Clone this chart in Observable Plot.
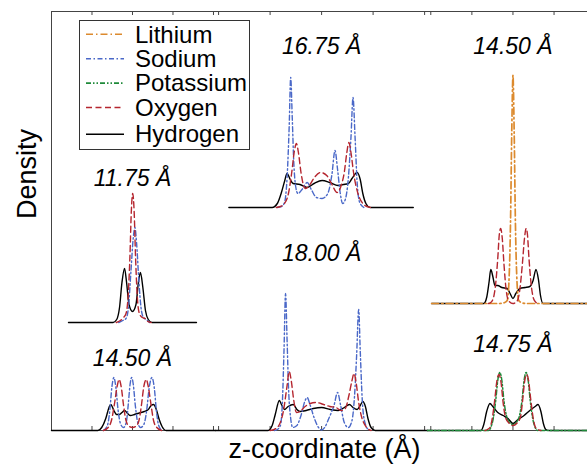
<!DOCTYPE html>
<html><head><meta charset="utf-8">
<script src="https://cdn.jsdelivr.net/npm/d3@7"></script>
<script src="https://cdn.jsdelivr.net/npm/@observablehq/plot@0.6"></script>
<style>
html,body{margin:0;padding:0;background:#fff;}
#chart{position:relative;width:587px;height:464px;overflow:hidden;font-family:"Liberation Sans",Arial,Helvetica,sans-serif;}
#chart svg.panel{position:absolute;top:0;}
#legend{position:absolute;left:79px;top:20px;width:171px;height:130px;border:1px solid #333;background:#fff;box-sizing:border-box;}
#legend .lab{position:absolute;left:55px;font-size:24px;line-height:20px;height:20px;color:#000;white-space:nowrap;}
</style></head>
<body><div id="chart"></div>
<script>
// ---- species and styles ----
const species = ["Lithium", "Sodium", "Potassium", "Oxygen", "Hydrogen"];
const colors = ["#dc8a2e", "#4a68c8", "#1f8a3a", "#b5262f", "#000000"];
const dashes = ["7,3,1.5,3", "5,2.5,1.5,2.5", "5,2,1.5,2,1.5,2", "6,3.5", null];
const widths = [1.7, 1.4, 1.5, 1.4, 1.4];

// ---- density profiles: [z (Å), density] ----
// 11.75 Å (Na)
const H_1175 = [[-7.9,0],[-2.4,0],[-1.95,0.3],[-1.6,1.5],[-1.3,4.0],[-0.98,5.4],[-0.73,4.0],[-0.43,1.8],[0,1.1],[0.43,1.8],[0.73,4.0],[0.98,5.0],[1.28,3.5],[1.6,1.2],[1.95,0.3],[2.4,0],[7.9,0]];
const O_1175 = [[-2.0,0],[-1.5,0.2],[-1.1,0.5],[-0.8,0.9],[-0.55,2.5],[-0.32,6.5],[-0.14,11.2],[0.03,12.9],[0.2,11.2],[0.38,6.5],[0.6,2.5],[0.85,0.9],[1.2,0.5],[1.55,0.4],[1.9,0.1],[2.3,0]];
const Na_1175 = [[-1.7,0],[-1.2,0.2],[-0.8,0.4],[-0.5,1.5],[-0.2,5],[0.1,8.5],[0.3,9.5],[0.5,8],[0.8,4],[1.05,1.5],[1.35,0.5],[1.7,0.3],[2.1,0]];
// 14.50 Å (Na)
const H_1450a = [[-10,0],[-4.27,0],[-3.8,0.3],[-3.3,1.2],[-2.9,2.3],[-2.68,2.6],[-2.3,2.0],[-1.95,1.6],[-1.6,1.6],[-1.3,1.8],[-0.98,2.0],[-0.6,1.7],[-0.24,1.5],[0.24,1.6],[0.85,1.75],[1.46,1.9],[1.95,2.1],[2.3,2.5],[2.6,2.6],[2.9,2.2],[3.3,1.1],[3.65,0.4],[4.15,0],[10.25,0]];
const O_1450a = [[-3.6,0],[-3.0,0.3],[-2.6,1.0],[-2.2,2.8],[-1.9,4.4],[-1.65,5.1],[-1.4,4.4],[-1.1,2.5],[-0.8,1.0],[-0.4,0.4],[0,0.3],[0.4,0.4],[0.8,1.0],[1.1,2.5],[1.4,4.4],[1.7,5.1],[1.95,4.4],[2.25,2.8],[2.6,1.0],[3.0,0.3],[3.6,0]];
const Na_1450a = [[-3.6,0],[-3.1,0.5],[-2.8,2],[-2.55,4.3],[-2.3,5.3],[-2.05,4.3],[-1.8,2.2],[-1.45,0.6],[-1.1,0.3],[-0.75,0.9],[-0.5,2.8],[-0.3,4.6],[-0.1,5.3],[0.1,4.6],[0.35,2.5],[0.65,0.8],[1.0,0.3],[1.4,0.6],[1.75,2.0],[2.05,4.2],[2.4,5.3],[2.7,4.2],[2.95,2],[3.2,0.6],[3.6,0]];
// 16.75 Å (Na)
const H_1675 = [[-9,0],[-4.8,0],[-4.3,0.4],[-3.9,1.5],[-3.6,2.6],[-3.35,3.4],[-3.05,2.8],[-2.77,2.4],[-2.1,2.3],[-1.4,2.0],[-0.73,2.4],[0.05,2.7],[0.8,2.5],[1.6,2.2],[2.1,2.3],[2.6,2.4],[2.95,2.9],[3.45,3.5],[3.75,2.8],[4.0,1.4],[4.3,0.4],[4.7,0],[8.9,0]];
const Na_1675 = [[-4.3,0],[-3.9,0.1],[-3.6,0.5],[-3.35,3],[-3.15,8],[-3.0,13],[-2.85,9],[-2.7,4.5],[-2.5,2],[-2.3,1.4],[-1.9,1.8],[-1.4,2.5],[-1.0,1.8],[-0.5,1.0],[0.05,0.9],[0.6,1.4],[1.0,3.3],[1.3,5.7],[1.55,3.8],[1.8,1.5],[2.05,0.4],[2.3,0.8],[2.6,3],[2.85,7],[3.05,11],[3.25,7],[3.45,2.5],[3.7,0.5],[4.1,0]];
const O_1675 = [[-4.4,0],[-4.0,0.1],[-3.6,0.4],[-3.2,1.5],[-2.9,3.5],[-2.65,5.6],[-2.45,6.4],[-2.25,5.5],[-2.0,3.5],[-1.6,1.9],[-1.2,2.2],[-0.7,3.0],[-0.1,3.5],[0.5,3.2],[1.0,2.3],[1.5,1.5],[1.9,2.2],[2.2,3.5],[2.45,5.5],[2.65,6.5],[2.85,5.5],[3.1,3.5],[3.5,1.5],[4.0,0.4],[4.4,0.1],[4.8,0]];
// 18.00 Å (Na)
const H_1800 = [[-10.3,0],[-5.2,0],[-4.8,0.5],[-4.5,1.6],[-4.1,3.0],[-3.9,2.6],[-3.6,2.1],[-3.25,2.4],[-2.75,2.6],[-2.4,2.1],[-2.1,1.9],[-1.5,2.0],[-0.8,2.2],[0,2.3],[0.85,2.1],[1.6,2.0],[2.2,2.3],[2.7,2.6],[3.05,2.3],[3.45,2.1],[3.75,2.5],[4.0,2.9],[4.25,2.4],[4.5,1.2],[4.8,0.3],[5.2,0],[10.28,0]];
const Na_1800 = [[-4.6,0],[-4.3,0.1],[-4.0,0.5],[-3.8,3],[-3.65,8],[-3.5,13.7],[-3.35,9],[-3.2,4],[-3.0,1.2],[-2.8,0.3],[-2.4,0.5],[-2.0,1.5],[-1.6,3.0],[-1.4,3.3],[-1.1,2.5],[-0.7,1.2],[-0.3,0.3],[0,0.05],[0.3,0.3],[0.7,1.2],[1.2,2.5],[1.55,3.8],[1.85,2.5],[2.2,0.8],[2.6,0.3],[2.95,1.0],[3.2,3.5],[3.4,7.5],[3.6,12.1],[3.75,8],[3.95,3],[4.2,0.8],[4.6,0]];
const O_1800 = [[-5.0,0],[-4.6,0.1],[-4.1,0.6],[-3.7,2],[-3.35,4.5],[-3.15,5.9],[-2.95,5.0],[-2.7,3],[-2.45,1.8],[-2.1,1.9],[-1.6,2.4],[-1.1,2.7],[-0.5,2.8],[0.2,2.6],[0.8,2.4],[1.4,2.3],[1.9,2.0],[2.3,2.2],[2.65,3.5],[2.95,5.0],[3.15,5.7],[3.35,4.8],[3.6,2.8],[3.9,1.3],[4.3,0.4],[4.8,0]];
// 14.50 Å (Li)
const H_1450b = [[-9.9,0],[-3.55,0],[-3.2,0.6],[-2.9,2.2],[-2.7,3.4],[-2.45,2.7],[-2.2,1.8],[-1.85,1.8],[-1.35,1.6],[-0.7,1.5],[-0.35,1.0],[0,0.5],[0.35,1.0],[0.85,1.5],[1.45,1.6],[2.05,1.7],[2.45,2.3],[2.8,3.4],[3.1,2.4],[3.35,0.8],[3.65,0],[9.8,0]];
const Li_1450 = [[-9.9,0],[-1.6,0],[-1.0,0.1],[-0.7,0.3],[-0.5,2],[-0.3,8],[-0.15,17],[0,22.8],[0.15,17],[0.3,8],[0.5,2],[0.7,0.3],[1.0,0.1],[1.6,0],[9.8,0]];
const O_1450b = [[-3.0,0],[-2.7,0.1],[-2.4,0.5],[-2.1,2.0],[-1.85,4.5],[-1.65,7.0],[-1.5,7.5],[-1.3,6.5],[-1.1,4],[-0.85,1.5],[-0.55,0.3],[0,0],[0.55,0.3],[0.85,1.5],[1.15,4],[1.4,6.5],[1.6,7.5],[1.75,7.0],[1.95,4.5],[2.2,2.0],[2.5,0.5],[2.8,0.1],[3.1,0]];
// 14.75 Å (K)
const H_1475 = [[-10.4,0],[-3.9,0],[-3.55,0.6],[-3.2,1.9],[-2.8,2.7],[-2.45,2.4],[-1.85,1.8],[-1.2,1.5],[-0.6,1.2],[0,0.7],[0.6,1.1],[1.35,1.5],[2.05,2.0],[2.7,2.4],[3.05,2.6],[3.4,1.9],[3.7,0.7],[4.0,0.1],[4.4,0],[9.8,0]];
const K_1475 = [[-10.4,0],[-3.0,0],[-2.7,0.3],[-2.4,1.2],[-2.1,3.0],[-1.85,5.0],[-1.6,5.8],[-1.35,5.0],[-1.1,3.0],[-0.8,1.5],[-0.4,0.8],[0,0.6],[0.4,0.8],[0.8,1.5],[1.1,3.0],[1.35,5.0],[1.6,5.8],[1.85,5.0],[2.1,3.0],[2.4,1.2],[2.7,0.3],[3.0,0],[9.8,0]];
const O_1475 = [[-3.4,0],[-3.1,0.1],[-2.8,0.3],[-2.5,1.3],[-2.2,3.2],[-1.95,5.0],[-1.7,5.6],[-1.45,4.8],[-1.2,2.8],[-0.9,1.3],[-0.45,0.7],[0,0.5],[0.45,0.7],[0.9,1.3],[1.15,2.8],[1.4,4.8],[1.65,5.6],[1.9,5.0],[2.15,3.2],[2.45,1.3],[2.75,0.3],[3.05,0.1],[3.4,0]];

const labels = ["11.75 Å", "14.50 Å", "16.75 Å", "18.00 Å", "14.50 Å", "14.75 Å"];
const tickValues = [-10, -5, 0, 5, 10];

// ---- layout (panel geometry, vertical offsets of stacked profiles) ----
const panels = [
  {left: 0, width: 215, marginLeft: 51, domain: [-10, 10.25]},
  {left: 215, width: 212, marginLeft: 0, domain: [-10.3, 10.28]},
  {left: 427, width: 166, marginLeft: 0, domain: [-10.4, 9.8]}
];
const profiles = [
  {panel: 0, label: labels[0], offset: 10.8, labelY: 24.5, series: {Sodium: Na_1175, Oxygen: O_1175, Hydrogen: H_1175}},
  {panel: 0, label: labels[1], offset: 0, labelY: 6.5, series: {Sodium: Na_1450a, Oxygen: O_1450a, Hydrogen: H_1450a}},
  {panel: 1, label: labels[2], offset: 22.3, labelY: 37.7, series: {Sodium: Na_1675, Oxygen: O_1675, Hydrogen: H_1675}},
  {panel: 1, label: labels[3], offset: 0, labelY: 17.0, series: {Sodium: Na_1800, Oxygen: O_1800, Hydrogen: H_1800}},
  {panel: 2, label: labels[4], offset: 12.7, labelY: 37.7, series: {Lithium: Li_1450, Oxygen: O_1450b, Hydrogen: H_1450b}},
  {panel: 2, label: labels[5], offset: 0, labelY: 7.9, series: {Potassium: K_1475, Oxygen: O_1475, Hydrogen: H_1475}}
];
const yMax = 41.9;
const axisColor = "#444";
const font = "Liberation Sans, Arial, Helvetica, sans-serif";
const drawOrder = ["Hydrogen", "Lithium", "Sodium", "Potassium", "Oxygen"];

const chart = document.getElementById("chart");

panels.forEach((p, i) => {
  const marks = [
    Plot.ruleY([yMax], {stroke: axisColor, strokeWidth: 1}),
    Plot.ruleY([0], {stroke: axisColor, strokeWidth: 1})
  ];
  if (i === 0) marks.push(Plot.ruleX([p.domain[0]], {stroke: axisColor, strokeWidth: 1}));
  const tv = tickValues.filter(t => t >= p.domain[0] && t <= p.domain[1]);
  marks.push(Plot.tickX(tv, {x: d => d, insetBottom: 415, stroke: axisColor}));
  marks.push(Plot.tickX(tv, {x: d => d, insetTop: 415, stroke: axisColor}));
  profiles.filter(q => q.panel === i).forEach(q => {
    drawOrder.forEach(sp => {
      const arr = q.series[sp];
      if (!arr) return;
      const k = species.indexOf(sp);
      const opts = {x: d => d[0], y: d => q.offset + d[1], stroke: colors[k], strokeWidth: widths[k], curve: "monotone-x"};
      if (dashes[k]) opts.strokeDasharray = dashes[k];
      marks.push(Plot.line(arr, opts));
    });
    marks.push(Plot.text([{z: 0, y: q.labelY, t: q.label}], {
      x: "z", y: "y", text: "t", fontSize: 23, fontStyle: "italic", fontFamily: font,
      lineAnchor: "bottom", textAnchor: "middle", fill: "#000"
    }));
  });
  if (i === 0) {
    marks.push(Plot.text(["Density"], {text: d => d, frameAnchor: "left", rotate: -90, dx: -24.6, dy: -2,
      fontSize: 27, fontFamily: font, lineAnchor: "middle", fill: "#000"}));
  }
  if (i === 1) {
    marks.push(Plot.text(["z-coordinate (Å)"], {text: d => d, frameAnchor: "bottom", dx: 3, dy: 19,
      fontSize: 27, fontFamily: font, lineAnchor: "middle", fill: "#000"}));
  }
  const svg = Plot.plot({
    width: p.width, height: 464,
    marginLeft: p.marginLeft, marginRight: 0, marginTop: 11, marginBottom: 34,
    x: {domain: p.domain, axis: null},
    y: {domain: [0, yMax], axis: null},
    style: {fontFamily: font, background: "transparent", overflow: "visible", maxWidth: "none"},
    marks
  });
  svg.classList.add("panel");
  svg.style.position = "absolute";
  svg.style.left = p.left + "px";
  svg.style.top = "0px";
  chart.appendChild(svg);
});

// ---- legend ----
const legend = document.createElement("div");
legend.id = "legend";
const rowBaselines = [21.8, 46.2, 70.6, 95.0, 121.7];
const ns = "http://www.w3.org/2000/svg";
const sv = document.createElementNS(ns, "svg");
sv.setAttribute("width", "50"); sv.setAttribute("height", "128");
sv.style.position = "absolute"; sv.style.left = "0px"; sv.style.top = "0px";
legend.appendChild(sv);
species.forEach((s, k) => {
  const ln = document.createElementNS(ns, "line");
  const yy = rowBaselines[k] - 8.5;
  ln.setAttribute("x1", 6); ln.setAttribute("x2", 44);
  ln.setAttribute("y1", yy); ln.setAttribute("y2", yy);
  ln.setAttribute("stroke", colors[k]); ln.setAttribute("stroke-width", 1.6);
  if (dashes[k]) ln.setAttribute("stroke-dasharray", dashes[k]);
  sv.appendChild(ln);
  const t = document.createElement("div");
  t.className = "lab";
  t.textContent = s;
  t.style.top = (rowBaselines[k] - 18.3) + "px";
  legend.appendChild(t);
});
chart.appendChild(legend);
</script></body></html>
